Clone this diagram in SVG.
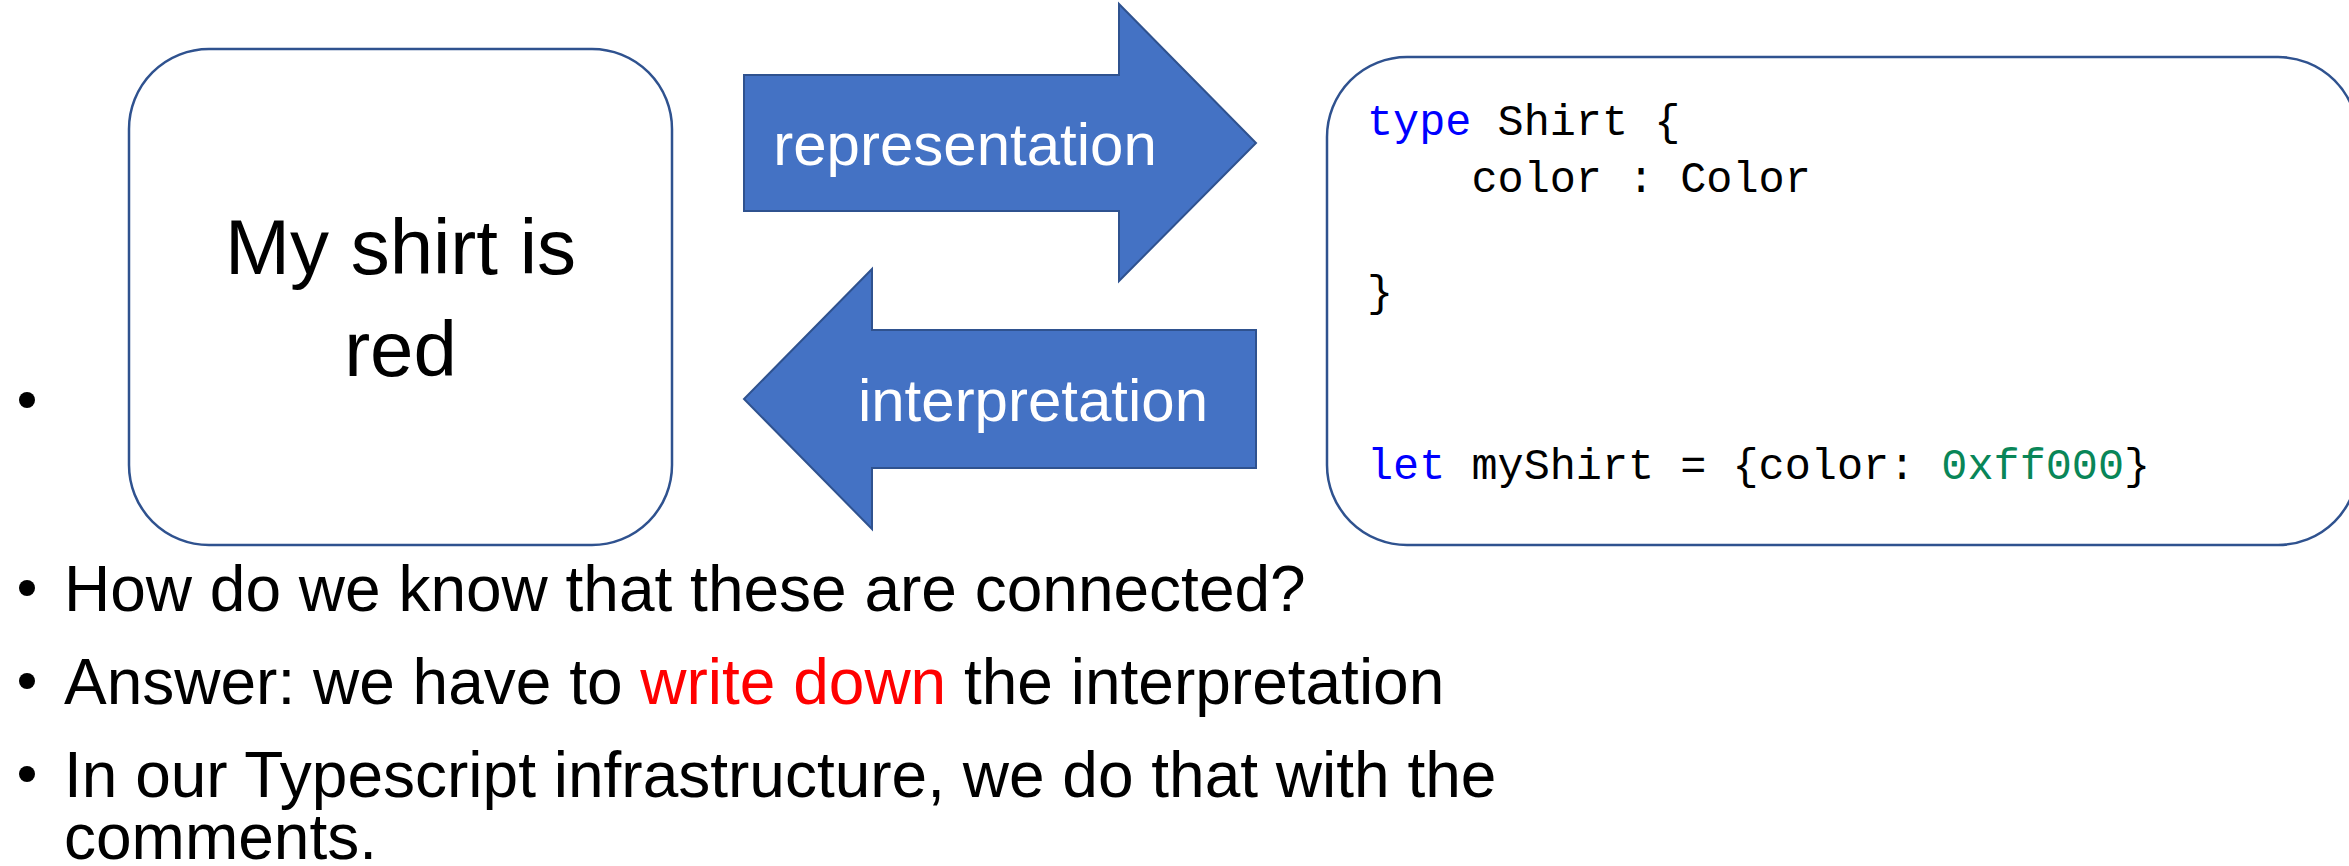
<svg xmlns="http://www.w3.org/2000/svg" width="2349" height="866" viewBox="0 0 2349 866">
<style>
.box{fill:#fff;stroke:#2F528F;stroke-width:2.5}
.arrow{fill:#4472C4;stroke:#2F528F;stroke-width:2}
.lbl{font-family:"Liberation Sans",Arial,sans-serif;fill:#fff;font-size:60px}
.big{font-family:"Liberation Sans",Arial,sans-serif;fill:#000;font-size:78px}
.code{font-family:"Liberation Mono","DejaVu Sans Mono",monospace;font-size:43.5px;fill:#000;white-space:pre}
.kw{fill:#0000FF}
.num{fill:#098658}
.body{font-family:"Liberation Sans",Arial,sans-serif;font-size:64px;fill:#000}
.red{fill:#FF0000}
.dot{fill:#000}
</style>
<rect width="2349" height="866" fill="#fff"/>
<g id="bullet-top"><circle class="dot" cx="27" cy="400" r="8"/></g>
<g id="node-statement">
<rect class="box" x="129" y="49" width="543" height="496" rx="80" ry="80"/>
<text class="big" x="400.5" y="274" text-anchor="middle">My shirt is</text>
<text class="big" x="400.5" y="376" text-anchor="middle">red</text>
</g>
<g id="connectors">
<g id="arrow-representation">
<polygon class="arrow" points="744,75 1119,75 1119,4 1256,143 1119,281 1119,211 744,211"/>
<text class="lbl" x="965" y="165" text-anchor="middle">representation</text>
</g>
<g id="arrow-interpretation">
<polygon class="arrow" points="1256,330 872,330 872,269 744,399 872,529 872,468 1256,468"/>
<text class="lbl" x="1033" y="421" text-anchor="middle">interpretation</text>
</g>
</g>
<g id="node-code">
<rect class="box" x="1327" y="57" width="1031" height="488" rx="80" ry="80"/>
<text class="code" x="1367" y="135"><tspan class="kw">type</tspan> Shirt {</text>
<text class="code" x="1367" y="192">    color : Color</text>
<text class="code" x="1367" y="306">}</text>
<text class="code" x="1367" y="479"><tspan class="kw">let</tspan> myShirt = {color: <tspan class="num">0xff000</tspan>}</text>
</g>
<g id="bullets">
<circle class="dot" cx="27" cy="588" r="8"/>
<text class="body" x="64" y="611">How do we know that these are connected?</text>
<circle class="dot" cx="27" cy="681" r="8"/>
<text class="body" x="64" y="704">Answer: we have to <tspan class="red">write down</tspan> the interpretation</text>
<circle class="dot" cx="27" cy="774" r="8"/>
<text class="body" x="64" y="797">In our Typescript infrastructure, we do that with the<tspan x="64" y="859">comments.</tspan></text>
</g>
</svg>
